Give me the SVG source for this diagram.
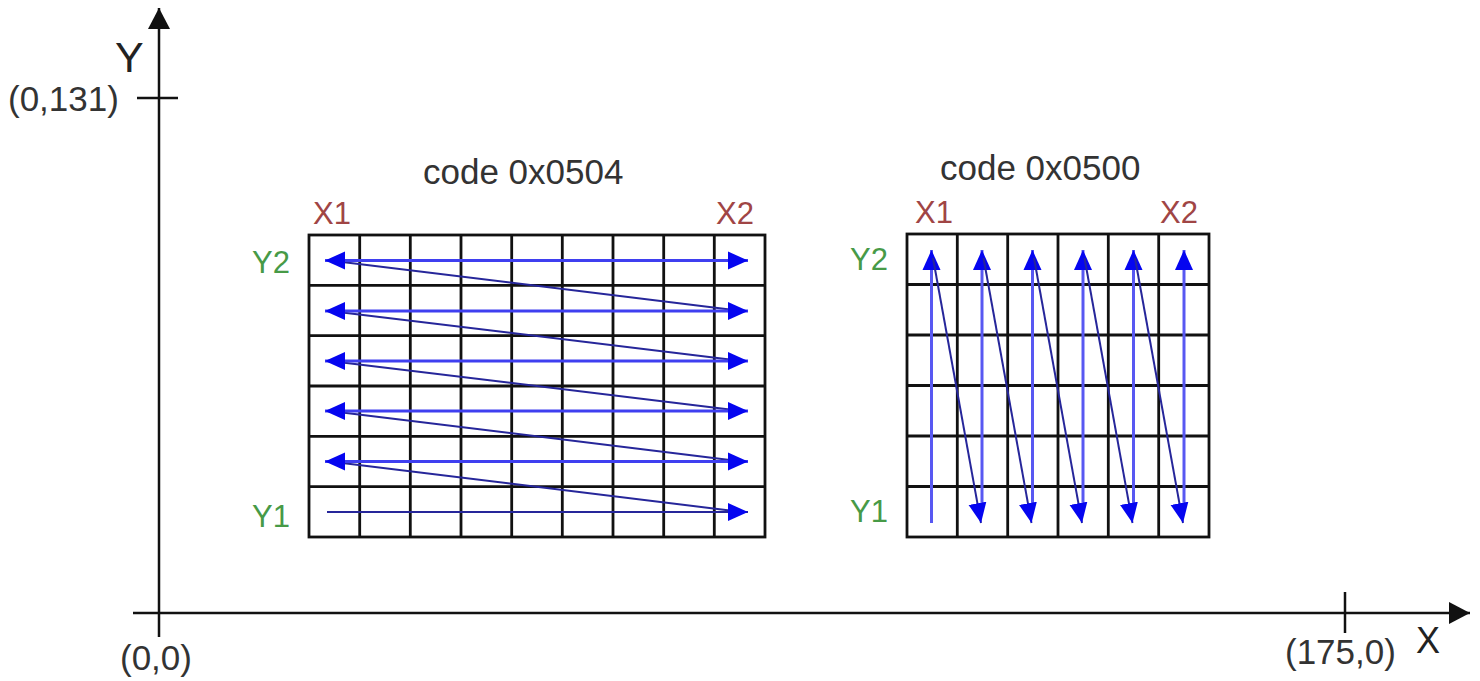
<svg xmlns="http://www.w3.org/2000/svg" width="1480" height="681" viewBox="0 0 1480 681">
<style>
text{font-family:"Liberation Sans",Arial,sans-serif}
.ax{stroke:#111;stroke-width:2.5;fill:none}
.grid{stroke:#111;stroke-width:2.8;fill:none}
.coord{font-size:35px;fill:#333}
.axl{fill:#222}
.code{font-size:35px;fill:#333}
.xl{font-size:31px;fill:#a04545}
.yl{font-size:31px;fill:#479a47}
.h{stroke:#3f3ff0;stroke-width:3;fill:none}
.d{stroke:#26269a;stroke-width:2;fill:none}
.v{stroke:#5858f2;stroke-width:3;fill:none}
</style>
<defs>
<marker id="ah" markerUnits="userSpaceOnUse" markerWidth="21" markerHeight="19" refX="20" refY="9.5" orient="auto-start-reverse">
<path d="M0,0.5 L20,9.5 L0,18.5 z" fill="#0505f0"/>
</marker>
<marker id="axh" markerUnits="userSpaceOnUse" markerWidth="22" markerHeight="24" refX="21" refY="12" orient="auto">
<path d="M0,1 L21,12 L0,23 z" fill="#111"/>
</marker>
</defs>
<rect width="1480" height="681" fill="#fff"/>
<g id="axes">
<line class="ax" x1="159" y1="637" x2="159" y2="8" marker-end="url(#axh)"/>
<line class="ax" x1="133" y1="613" x2="1470" y2="613" marker-end="url(#axh)"/>
<line class="ax" x1="137" y1="98" x2="178" y2="98"/>
<line class="ax" x1="1345" y1="592" x2="1345" y2="633"/>
<text class="axl" x="115" y="72" font-size="43">Y</text>
<text class="axl" x="1416" y="653" font-size="36">X</text>
<text class="coord" x="8" y="111">(0,131)</text>
<text class="coord" x="120" y="670">(0,0)</text>
<text class="coord" x="1285" y="664">(175,0)</text>
</g>
<g id="grid-left">
<text class="code" x="423" y="184">code 0x0504</text>
<rect class="grid" x="309" y="235" width="456" height="302"/>
<path class="grid" d="M359.7,235V537M410.3,235V537M461,235V537M511.7,235V537M562.3,235V537M613,235V537M663.7,235V537M714.3,235V537M309,285.3H765M309,335.7H765M309,386H765M309,436.3H765M309,486.7H765"/>
<text class="xl" x="313" y="224">X1</text>
<text class="xl" x="716" y="224">X2</text>
<text class="yl" x="252" y="273">Y2</text>
<text class="yl" x="252" y="527">Y1</text>
</g>
<g id="grid-right">
<text class="code" x="940" y="180">code 0x0500</text>
<rect class="grid" x="907" y="234" width="302" height="303"/>
<path class="grid" d="M957.3,234V537M1007.7,234V537M1058,234V537M1108.3,234V537M1158.7,234V537M907,284.5H1209M907,335H1209M907,385.5H1209M907,436H1209M907,486.5H1209"/>
<text class="xl" x="915" y="223">X1</text>
<text class="xl" x="1160" y="223">X2</text>
<text class="yl" x="850" y="270">Y2</text>
<text class="yl" x="850" y="522">Y1</text>
</g>
<g id="connectors">
<line class="d" x1="330" y1="260.5" x2="742" y2="311"/>
<line class="d" x1="330" y1="311" x2="742" y2="361"/>
<line class="d" x1="330" y1="361" x2="742" y2="411"/>
<line class="d" x1="330" y1="411" x2="742" y2="461.5"/>
<line class="d" x1="330" y1="461.5" x2="742" y2="512"/>
<line class="h" x1="325" y1="260.5" x2="748" y2="260.5" marker-start="url(#ah)" marker-end="url(#ah)"/>
<line class="h" x1="325" y1="311" x2="748" y2="311" marker-start="url(#ah)" marker-end="url(#ah)"/>
<line class="h" x1="325" y1="361" x2="748" y2="361" marker-start="url(#ah)" marker-end="url(#ah)"/>
<line class="h" x1="325" y1="411" x2="748" y2="411" marker-start="url(#ah)" marker-end="url(#ah)"/>
<line class="h" x1="325" y1="461.5" x2="748" y2="461.5" marker-start="url(#ah)" marker-end="url(#ah)"/>
<line class="d" x1="327" y1="512" x2="748" y2="512" marker-end="url(#ah)"/>
<line class="v" x1="931.5" y1="523" x2="931.5" y2="250" marker-end="url(#ah)"/>
<line class="v" x1="982" y1="505" x2="982" y2="250" marker-end="url(#ah)"/>
<line class="v" x1="1032.5" y1="505" x2="1032.5" y2="250" marker-end="url(#ah)"/>
<line class="v" x1="1083" y1="505" x2="1083" y2="250" marker-end="url(#ah)"/>
<line class="v" x1="1133.5" y1="505" x2="1133.5" y2="250" marker-end="url(#ah)"/>
<line class="v" x1="1184" y1="505" x2="1184" y2="250" marker-end="url(#ah)"/>
<line class="d" x1="933" y1="258" x2="981" y2="523" marker-end="url(#ah)"/>
<line class="d" x1="983.5" y1="258" x2="1031.5" y2="523" marker-end="url(#ah)"/>
<line class="d" x1="1034" y1="258" x2="1082" y2="523" marker-end="url(#ah)"/>
<line class="d" x1="1084.5" y1="258" x2="1132.5" y2="523" marker-end="url(#ah)"/>
<line class="d" x1="1135" y1="258" x2="1183" y2="523" marker-end="url(#ah)"/>
</g>
</svg>
